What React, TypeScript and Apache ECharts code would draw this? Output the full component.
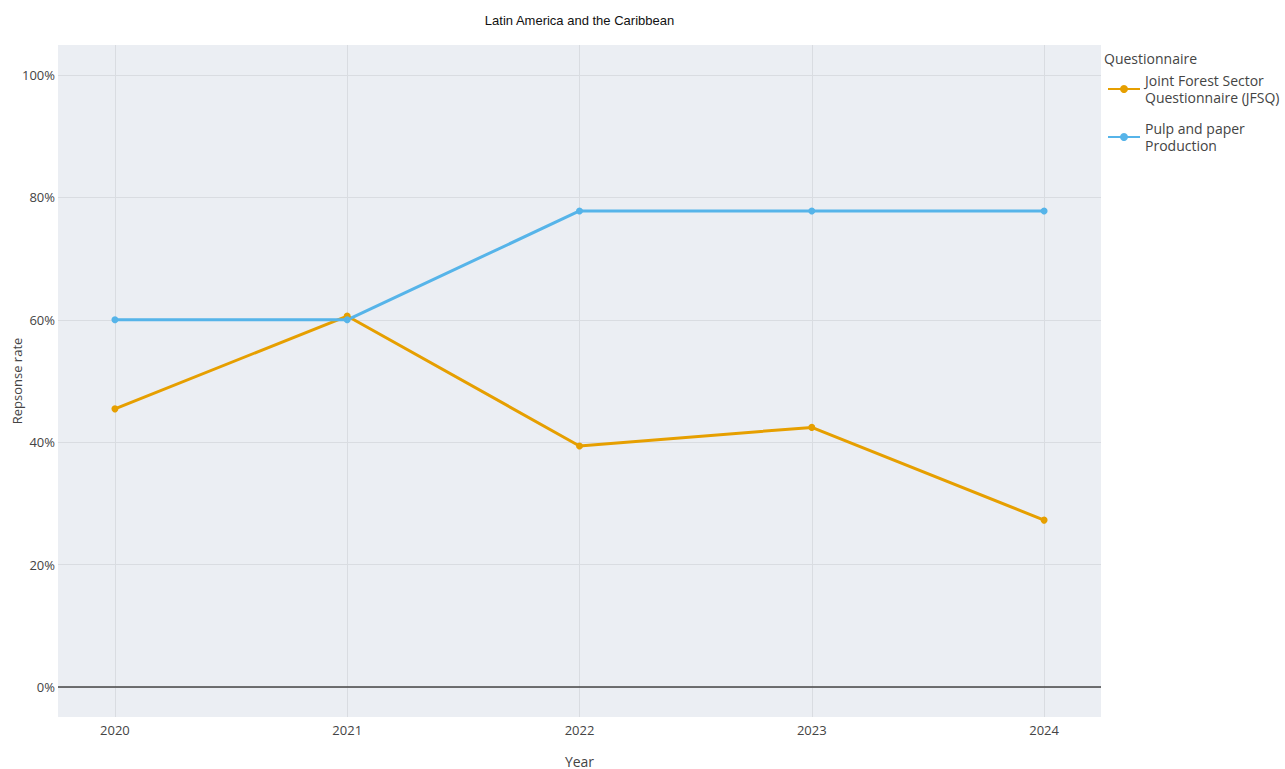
import React, { useEffect, useRef } from "react";
import * as echarts from "echarts";

const years = [2020, 2021, 2022, 2023, 2024];
const jfsq = [45.45, 60.61, 39.39, 42.42, 27.27];
const pulp = [60.0, 60.0, 77.78, 77.78, 77.78];
const seriesNames = ["Joint Forest Sector Questionnaire (JFSQ)", "Pulp and paper Production"];
const legendLabels: Record<string, string> = {
  "Joint Forest Sector Questionnaire (JFSQ)": "Joint Forest Sector\nQuestionnaire (JFSQ)",
  "Pulp and paper Production": "Pulp and paper\nProduction",
};

const FONT = "'Open Sans', 'DejaVu Sans', sans-serif";

export default function App() {
  const ref = useRef<HTMLDivElement>(null);
  useEffect(() => {
    document.body.style.margin = "0";
    const chart = echarts.init(ref.current!, null, { renderer: "svg" });
    const mk = (arr: number[]) => years.map((y, i) => [y, arr[i]]);
    chart.setOption({
      animation: false,
      backgroundColor: "#ffffff",
      textStyle: { fontFamily: FONT },
      graphic: [
        { type: "rect", shape: { x: 58, y: 45, width: 1043, height: 672 }, style: { fill: "#EBEEF3" }, z: -10, silent: true },
        {
          type: "text",
          x: 579.5,
          y: 20,
          style: {
            text: "Latin America and the Caribbean",
            fontFamily: "'Liberation Sans', Arial, sans-serif",
            fontSize: 13,
            fill: "#111",
            align: "center",
            verticalAlign: "middle",
          },
        },
        { type: "text", left: 1104, top: 51, style: { text: "Questionnaire", fontFamily: FONT, fontSize: 14, fill: "#444" } },
      ],
      legend: {
        orient: "vertical",
        left: 1102,
        top: 67,
        itemWidth: 32,
        itemHeight: 10,
        itemGap: 14,
        textStyle: { fontFamily: FONT, fontSize: 14, color: "#444", lineHeight: 17 },
        formatter: (n: string) => legendLabels[n] || n,
        data: seriesNames,
      },
      grid: { left: 58, right: 184, top: 45, bottom: 52, containLabel: false, outerBoundsMode: "none" },
      xAxis: {
        type: "value",
        min: 2019.755,
        max: 2024.245,
        name: "Year",
        nameLocation: "middle",
        nameGap: 37,
        nameMoveOverlap: false,
        nameTextStyle: { fontFamily: FONT, fontSize: 14, color: "#444" },
        axisLine: { show: false },
        axisTick: { show: false },
        axisLabel: {
          showMinLabel: false,
          showMaxLabel: false,
          fontFamily: FONT,
          fontSize: 13,
          color: "#444",
          margin: 6,
          formatter: (v: number) => (Number.isInteger(v) ? String(v) : ""),
        },
        splitLine: { show: true, showMinLine: false, showMaxLine: false, lineStyle: { color: "#D9DCE1", width: 1 } },
      },
      yAxis: {
        type: "value",
        min: -4.9,
        max: 104.9,
        name: "Repsonse rate",
        nameLocation: "middle",
        nameGap: 35,
        nameMoveOverlap: false,
        nameTextStyle: { fontFamily: FONT, fontSize: 13, color: "#444" },
        axisLine: { show: false },
        axisTick: { show: false },
        axisLabel: {
          showMinLabel: false,
          showMaxLabel: false,
          fontFamily: FONT,
          fontSize: 13,
          color: "#444",
          margin: 3,
          formatter: (v: number) => (Math.abs(v % 20) < 1e-6 ? `${v}%` : ""),
        },
        splitLine: { show: true, showMinLine: false, showMaxLine: false, lineStyle: { color: "#D9DCE1", width: 1 } },
      },
      series: [
        {
          name: seriesNames[0],
          type: "line",
          data: mk(jfsq),
          color: "#E69F00",
          lineStyle: { width: 3 },
          symbol: "circle",
          symbolSize: 7,
          markLine: {
            silent: true,
            symbol: "none",
            label: { show: false },
            lineStyle: { color: "#444", width: 1.5, type: "solid" },
            data: [{ yAxis: 0 }],
          },
        },
        {
          name: seriesNames[1],
          type: "line",
          data: mk(pulp),
          color: "#56B4E9",
          lineStyle: { width: 3 },
          symbol: "circle",
          symbolSize: 7,
        },
      ],
    });
    return () => chart.dispose();
  }, []);
  return <div ref={ref} style={{ position: "absolute", left: 0, top: 0, width: 1285, height: 769 }} />;
}
